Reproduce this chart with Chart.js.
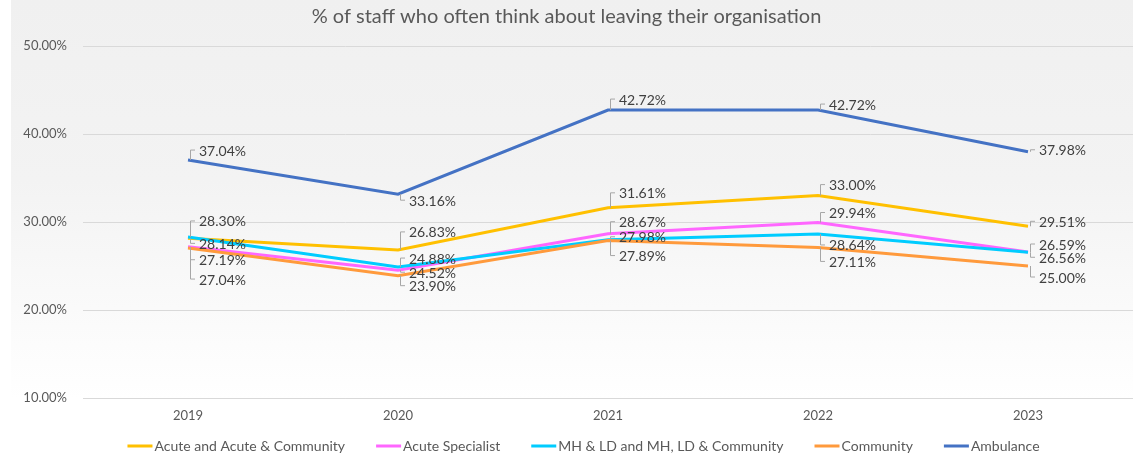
<!DOCTYPE html>
<html>
<head>
<meta charset="utf-8">
<script src="https://cdn.jsdelivr.net/npm/chart.js@4.4.1/dist/chart.umd.min.js"></script>
<style>
  body { margin: 0; background: #fff; }
  #wrap { width: 1133px; height: 454px; position: relative; }
</style>
</head>
<body>
<div id="wrap"><canvas id="leavingChart"></canvas></div>
<script>
// % of staff who often think about leaving their organisation, by trust type
const years = ['2019', '2020', '2021', '2022', '2023'];

const acute = [28.14, 26.83, 31.61, 33.00, 29.51];
const acuteSpecialist = [27.19, 24.52, 28.67, 29.94, 26.59];
const mhLd = [28.30, 24.88, 27.98, 28.64, 26.56];
const community = [27.04, 23.90, 27.89, 27.11, 25.00];
const ambulance = [37.04, 33.16, 42.72, 42.72, 37.98];

const yMin = 10;
const yMax = 50;
const yStep = 10;

// where each data label sits, in px above (-) or below (+) its point
const labelDy = [
  [5, -18, -15, -11, -5],   // acute
  [13, 2, -12, -10, -8],    // acute specialist
  [-16, -9, -3, 11, 5],     // MH & LD
  [31, 10, 15, 14, 11],     // community
  [-10, 6, -11, -6, -2]     // ambulance
];

const FONT = 'Lato, "Liberation Sans", sans-serif';

const background = {
  id: 'background',
  beforeDraw(chart) {
    const { ctx, width, height } = chart;
    ctx.save();
    ctx.fillStyle = '#ffffff';
    ctx.fillRect(0, 0, width, height);
    const g = ctx.createLinearGradient(0, 0, 0, 400);
    g.addColorStop(0, '#f0f0f0');
    g.addColorStop(0.45, '#f3f3f3');
    g.addColorStop(1, '#ffffff');
    ctx.fillStyle = g;
    ctx.fillRect(11, 0, width - 11, 400);
    ctx.restore();
  }
};

// data labels with small leader lines
const pointLabels = {
  id: 'pointLabels',
  afterDatasetsDraw(chart) {
    const ctx = chart.ctx;
    ctx.save();
    ctx.font = '14px ' + FONT;
    ctx.textBaseline = 'middle';
    ctx.textAlign = 'left';
    chart.data.datasets.forEach((ds, di) => {
      const meta = chart.getDatasetMeta(di);
      meta.data.forEach((pt, i) => {
        const dy = labelDy[di][i];
        const lx = pt.x + 11;
        const ly = pt.y + dy;
        ctx.strokeStyle = '#a6a6a6';
        ctx.lineWidth = 1;
        ctx.beginPath();
        ctx.moveTo(pt.x + 2.5, pt.y);
        ctx.lineTo(pt.x + 2.5, ly);
        ctx.lineTo(pt.x + 7, ly);
        ctx.stroke();
        ctx.fillStyle = '#404040';
        ctx.fillText(ds.data[i].toFixed(2) + '%', lx, ly + 1);
      });
    });
    ctx.restore();
  }
};

// legend drawn as short lines followed by the label text
const lineLegend = {
  id: 'lineLegend',
  afterDraw(chart) {
    const ctx = chart.ctx;
    ctx.save();
    ctx.font = '14px ' + FONT;
    ctx.textBaseline = 'middle';
    const lineW = 25, gap = 31;
    const items = chart.data.datasets.map(ds => ({
      text: ds.label,
      color: ds.borderColor,
      w: lineW + 2 + ctx.measureText(ds.label).width
    }));
    const total = items.reduce((s, it) => s + it.w, 0) + gap * (items.length - 1);
    let x = chart.width / 2 + 17 - total / 2;
    const y = 446;
    items.forEach(it => {
      ctx.fillStyle = it.color;
      ctx.fillRect(x, y - 1.5, lineW, 3);
      ctx.fillStyle = '#595959';
      ctx.fillText(it.text, x + lineW + 2, y);
      x += it.w + gap;
    });
    ctx.restore();
  }
};

function series(label, data, color, order) {
  return {
    label: label,
    data: data,
    borderColor: color,
    backgroundColor: color,
    borderWidth: 3,
    pointRadius: 0,
    tension: 0,
    order: order
  };
}

const ctx = document.getElementById('leavingChart').getContext('2d');
const leavingChart = new Chart(ctx, {
  type: 'line',
  data: {
    labels: years,
    datasets: [
      series('Acute and Acute & Community', acute, '#ffc000', 5),
      series('Acute Specialist', acuteSpecialist, '#ff66ff', 4),
      series('MH & LD and MH, LD & Community', mhLd, '#00ccff', 3),
      series('Community', community, '#ff9a3c', 2),
      series('Ambulance', ambulance, '#4472c4', 1)
    ]
  },
  options: {
    responsive: true,
    maintainAspectRatio: false,
    animation: false,
    layout: { padding: { left: 0, right: 0, top: 0, bottom: 20.4 } },
    plugins: {
      legend: { display: false },
      tooltip: { enabled: false },
      title: {
        display: true,
        text: '% of staff who often think about leaving their organisation',
        color: '#595959',
        font: { family: FONT, size: 20, weight: 'normal' },
        padding: { top: 5, bottom: 17 }
      }
    },
    scales: {
      x: {
        offset: true,
        grid: { display: false, drawTicks: false },
        border: { display: true, color: '#d9d9d9', width: 1 },
        ticks: { color: '#595959', font: { family: FONT, size: 13 }, padding: 10 }
      },
      y: {
        min: yMin,
        max: yMax,
        afterFit(scale) { scale.width = 83; },
        grid: { color: '#d9d9d9', drawTicks: false },
        border: { display: false },
        ticks: {
          stepSize: yStep,
          padding: 16,
          color: '#595959',
          font: { family: FONT, size: 13 },
          callback: v => v.toFixed(2) + '%'
        }
      }
    }
  },
  plugins: [background, pointLabels, lineLegend]
});
</script>
</body>
</html>
